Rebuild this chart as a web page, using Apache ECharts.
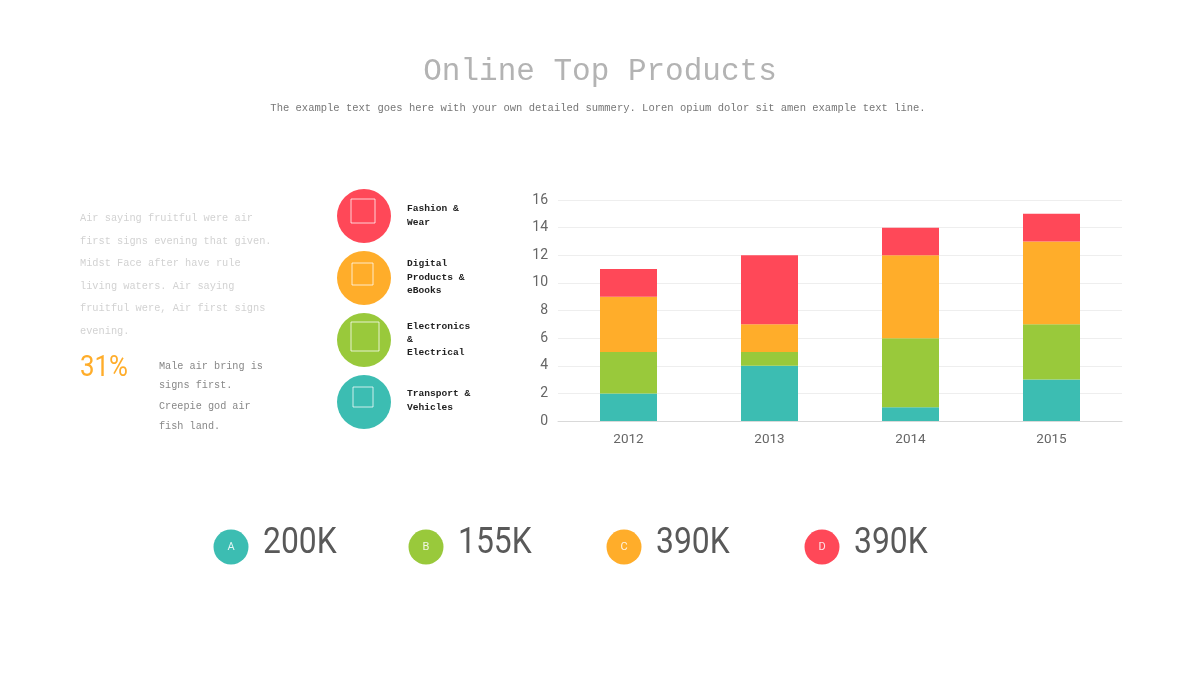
<!DOCTYPE html>
<html lang="en">
<head>
  <meta charset="UTF-8">
  <title>Online Top Products</title>
  <script src="https://cdn.jsdelivr.net/npm/echarts@6/dist/echarts.min.js"></script>
  <style>
    html, body { margin: 0; padding: 0; background: #ffffff; }
    #chart { width: 1200px; height: 675px; }
  </style>
</head>
<body>
  <div id="chart"></div>
<script>
  const years = ['2012', '2013', '2014', '2015'];
  const teal = [2, 4, 1, 3];
  const green = [3, 1, 5, 4];
  const orange = [4, 2, 6, 6];
  const red = [2, 5, 2, 2];

  const titleText = 'Online Top Products';
  const subtitleText = 'The example text goes here with your own detailed summery. Loren opium dolor sit amen example text line.';
  const introLines = [
    'Air saying fruitful were air',
    'first signs evening that given.',
    'Midst Face after have rule',
    'living waters. Air saying',
    'fruitful were, Air first signs',
    'evening.'
  ];
  const percentText = '31%';
  const noteLines = ['Male air bring is', 'signs first.', 'Creepie god air', 'fish land.'];
  const productNames = [
    ['Fashion &', 'Wear'],
    ['Digital', 'Products &', 'eBooks'],
    ['Electronics', '&', 'Electrical'],
    ['Transport &', 'Vehicles']
  ];
  const statLetters = ['A', 'B', 'C', 'D'];
  const statValues = ['200K', '155K', '390K', '390K'];

  const TEAL = '#3cbdb2', GREEN = '#99c93b', ORANGE = '#ffad2a', RED = '#ff4858';
  const MONO = '"Liberation Mono", "DejaVu Sans Mono", monospace';

  function text(x, y, str, size, color, extra) {
    return Object.assign({
      type: 'text', x: x, y: y, silent: true,
      style: Object.assign({
        text: str, fontFamily: MONO, fontSize: size, fill: color,
        align: 'left', verticalAlign: 'middle'
      }, extra || {})
    });
  }

  const graphics = [];

  // heading
  graphics.push(text(600, 72, titleText, 31, '#b3b3b3', { align: 'center' }));
  graphics.push(text(598, 108, subtitleText, 10.5, '#777777', { align: 'center' }));

  // left copy
  const introY = [218, 241, 263, 286, 308, 331];
  introLines.forEach((l, i) => graphics.push(text(80, introY[i], l, 10.3, '#d2d2d2')));

  graphics.push({
    type: 'text', x: 80, y: 368, scaleX: 0.86, silent: true,
    style: { text: percentText, fontFamily: 'Roboto', fontSize: 30, fill: ORANGE, align: 'left', verticalAlign: 'middle' }
  });

  const noteY = [366, 385, 406, 426];
  noteLines.forEach((l, i) => graphics.push(text(159, noteY[i], l, 10.2, '#888888')));

  // product circles, the white squares are different size in each one
  const circleColors = [RED, ORANGE, GREEN, TEAL];
  const circleY = [216, 278, 340, 402];
  const squares = [
    [351, 199, 24, 24],
    [352, 263, 21, 22],
    [351, 322, 28, 29],
    [353, 387, 20, 20]
  ];
  const nameY = [[209, 223], [264, 278, 291], [327, 340, 353], [394, 408]];
  circleColors.forEach((c, i) => {
    graphics.push({ type: 'circle', silent: true, shape: { cx: 364, cy: circleY[i], r: 27 }, style: { fill: c } });
    const s = squares[i];
    graphics.push({
      type: 'rect', silent: true,
      shape: { x: s[0], y: s[1], width: s[2], height: s[3] },
      style: { fill: 'transparent', stroke: 'rgba(255,255,255,0.75)', lineWidth: 1 }
    });
    productNames[i].forEach((l, j) => {
      graphics.push(text(407, nameY[i][j], l, 9.6, '#222222', { fontWeight: 'bold' }));
    });
  });

  // bottom stats
  const statColors = [TEAL, GREEN, ORANGE, RED];
  const statCx = [231, 426, 624, 822];
  const statX = [263, 458, 656, 854];
  statLetters.forEach((l, i) => {
    graphics.push({ type: 'circle', silent: true, shape: { cx: statCx[i], cy: 547, r: 17.5 }, style: { fill: statColors[i] } });
    graphics.push(text(statCx[i], 547, l, 11, 'rgba(255,255,255,0.85)', { align: 'center', fontFamily: 'Roboto' }));
    graphics.push({
      type: 'text', x: statX[i], y: 544, scaleX: 0.86, silent: true,
      style: { text: statValues[i], fontFamily: 'Roboto', fontSize: 37, fill: '#595959', align: 'left', verticalAlign: 'middle' }
    });
  });

  function barSeries(name, data, color) {
    return { name: name, type: 'bar', stack: 'total', barWidth: 57, data: data, itemStyle: { color: color } };
  }

  const chart = echarts.init(document.getElementById('chart'), null, { renderer: 'canvas' });
  chart.setOption({
    animation: false,
    backgroundColor: '#ffffff',
    grid: { left: 558, right: 78, top: 200, bottom: 254 },
    xAxis: {
      type: 'category',
      data: years,
      axisTick: { show: false },
      axisLine: { lineStyle: { color: '#d9d9d9', width: 1 } },
      axisLabel: { color: '#666666', fontFamily: 'Roboto', fontSize: 13.5, margin: 12 }
    },
    yAxis: {
      type: 'value',
      min: 0,
      max: 16,
      interval: 2,
      axisLine: { show: false },
      axisTick: { show: false },
      splitLine: { lineStyle: { color: '#eeeeee', width: 1 } },
      axisLabel: { color: '#666666', fontFamily: 'Roboto', fontSize: 14, margin: 10 }
    },
    series: [
      barSeries('A', teal, TEAL),
      barSeries('B', green, GREEN),
      barSeries('C', orange, ORANGE),
      barSeries('D', red, RED)
    ],
    graphic: graphics
  });
</script>
</body>
</html>
